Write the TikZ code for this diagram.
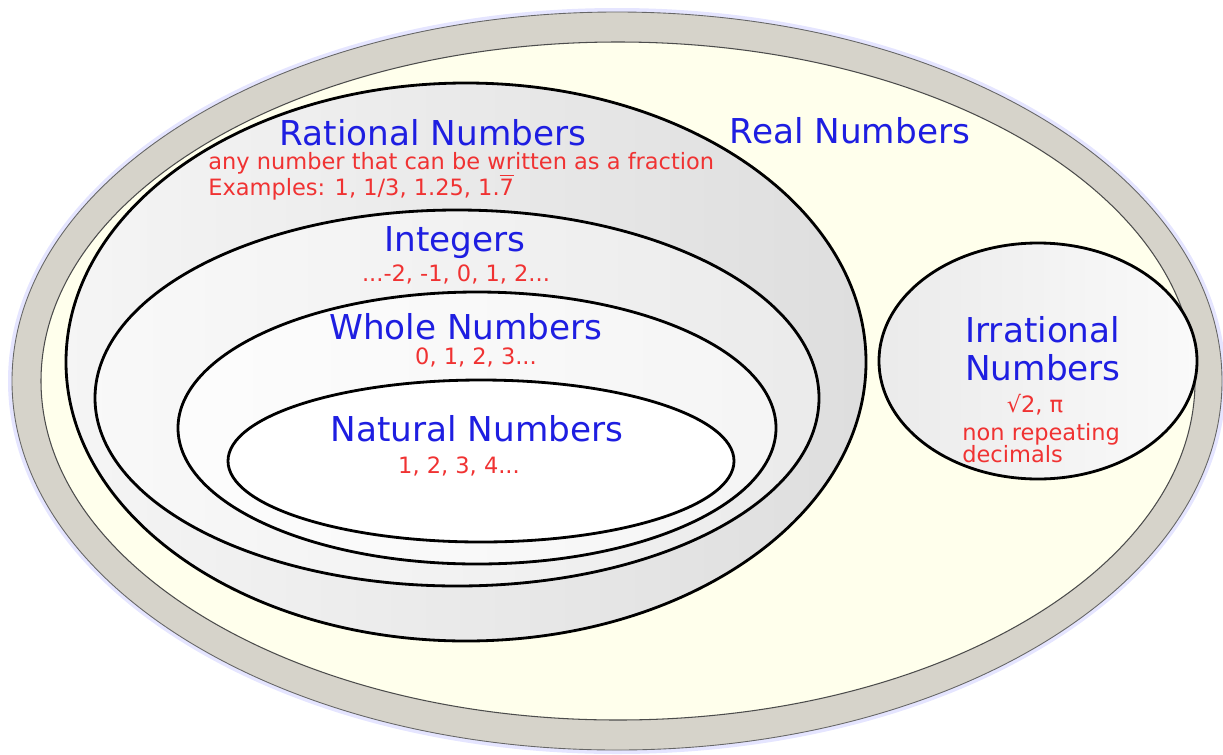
\documentclass[tikz,border=0pt]{standalone}
\usepackage{amsmath}
\usepackage{fontspec}
\setmainfont{DejaVu Sans}
\usepackage{xcolor}
\definecolor{ringgray}{RGB}{214,211,202}
\definecolor{cream}{RGB}{255,255,236}
\definecolor{setblue}{RGB}{30,30,225}
\definecolor{setred}{RGB}{240,50,50}

\begin{document}
\begin{tikzpicture}[x=0.02cm,y=-0.02cm,
 set/.style={draw=black,line width=1.6pt},
 title/.style={text=setblue,font=\fontsize{19.5}{21.6}\selectfont,inner sep=0pt},
 note/.style={text=setred,font=\fontsize{12.8}{14.7}\selectfont,inner sep=0pt}]
\useasboundingbox (0,0) rectangle (1223,754);
% real numbers frame
\fill[blue!10] (617,381) ellipse [x radius=609, y radius=373];
\filldraw[fill=ringgray,draw=gray!80!black,line width=0.5pt] (617,381) ellipse [x radius=605, y radius=369];
\filldraw[fill=cream,draw=gray!60!black,line width=0.6pt] (618,381) ellipse [x radius=577, y radius=339];
% nested sets
\path[set,left color=gray!8,right color=gray!26] (466,362) ellipse [x radius=400, y radius=279];
\path[set,left color=gray!5,right color=gray!16] (457,398) ellipse [x radius=362, y radius=188];
\path[set,left color=gray!2,right color=gray!8] (477,428) ellipse [x radius=299, y radius=136];
\path[set,fill=white] (481,461) ellipse [x radius=253, y radius=81];
\path[set,left color=gray!16,right color=gray!4] (1038,361) ellipse [x radius=159, y radius=118];
% labels
\node[title] (real) at (850,131) {Real Numbers};
\node[title] (rational) at (433,133) {Rational Numbers};
\node[note,align=left,anchor=west] (rationalnote) at (208,176) {any number that can be written as a fraction\\Examples: 1, 1/3, 1.25, 1.$\overline{\text{7}}$};
\node[title] (integers) at (455,243) {Integers};
\node[note] (integersnote) at (456,274) {...-2, -1, 0, 1, 2...};
\node[title] (whole) at (466,327) {Whole Numbers};
\node[note] (wholenote) at (476,357) {0, 1, 2, 3...};
\node[title] (natural) at (477,429) {Natural Numbers};
\node[note] (naturalnote) at (459,466) {1, 2, 3, 4...};
\node[title,align=left,anchor=west] (irrational) at (965,349) {Irrational\\Numbers};
\node[note] (irrationalroot) at (1035,405) {√2, π};
\node[note,align=left,anchor=west] (irrationalnote) at (962,443) {non repeating\\[-2.5pt]decimals};
\end{tikzpicture}
\end{document}
